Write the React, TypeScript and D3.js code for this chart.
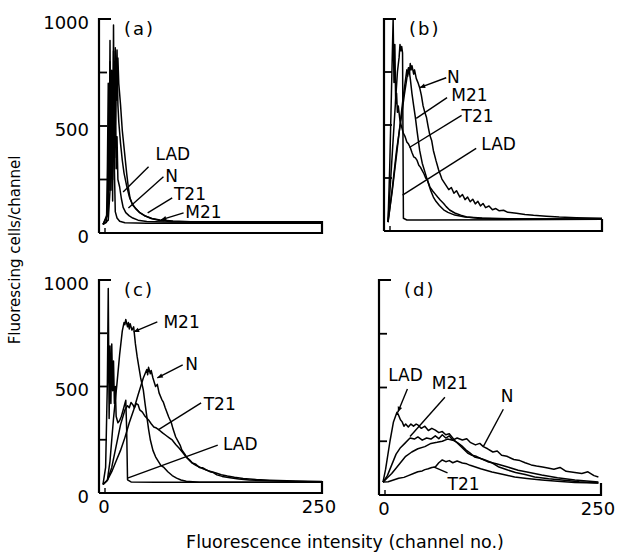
import * as d3 from "d3";

type Pt = [number, number];
type Note = { text: string; at: Pt; from: Pt; to: Pt; arrow: boolean };

// axis values
const Y_TICKS = [0, 250, 500, 750, 1000];
const Y_LABELED = [0, 500, 1000];
const X_LABELED = [0, 250];

// panel (a): [channel, cells]
const A_LAD: Pt[] = [[0, 40], [4, 50], [5, 300], [6, 700], [7, 250], [8, 900], [9, 200], [10, 760], [11, 150], [12, 972], [13, 300], [14, 100], [16, 70], [19, 55], [25, 48], [50, 46], [250, 46]];
const A_N: Pt[] = [[0, 40], [5, 80], [6, 450], [7, 200], [8, 800], [9, 300], [10, 700], [11, 250], [12, 850], [13, 350], [14, 866], [15, 300], [16, 450], [17, 250], [19, 215], [21, 160], [23, 120], [26, 95], [30, 80], [34, 70], [40, 60], [50, 54], [70, 51], [250, 50]];
const A_T21: Pt[] = [[0, 40], [6, 100], [7, 500], [8, 250], [9, 650], [10, 350], [11, 750], [12, 420], [13, 800], [14, 500], [15, 720], [16, 855], [17, 600], [18, 520], [20, 420], [22, 340], [24, 280], [27, 220], [30, 170], [33, 140], [37, 115], [42, 95], [47, 82], [55, 68], [65, 58], [80, 53], [250, 51]];
const A_M21: Pt[] = [[0, 40], [6, 60], [8, 200], [9, 450], [10, 300], [11, 600], [12, 380], [13, 700], [14, 500], [15, 760], [16, 620], [17, 818], [18, 700], [20, 600], [22, 480], [24, 400], [27, 280], [29, 210], [31, 160], [34, 130], [38, 112], [42, 95], [48, 80], [56, 68], [65, 61], [80, 56], [100, 53], [250, 52]];
const A_NOTES: Note[] = [
  { text: "LAD", at: [60, 343], from: [52, 310], to: [23, 192], arrow: false },
  { text: "N", at: [71, 239], from: [69, 263], to: [29, 117], arrow: false },
  { text: "T21", at: [81, 155], from: [79, 164], to: [51, 94], arrow: false },
  { text: "M21", at: [94, 70], from: [92, 94], to: [66, 61], arrow: true },
];

// panel (b)
const B_LAD: Pt[] = [[0, 42], [4, 300], [8, 560], [11, 750], [13, 820], [14, 880], [15, 850], [16, 870], [17, 840], [18, 60], [22, 52], [40, 52], [250, 55]];
const B_N: Pt[] = [[0, 42], [5, 200], [10, 380], [15, 520], [19, 640], [22, 720], [24, 770], [25, 740], [26, 790], [27, 760], [28, 780], [30, 740], [31, 760], [33, 720], [35, 700], [37, 676], [39, 640], [41, 590], [43, 560], [45, 535], [47, 490], [49, 450], [51, 427], [53, 380], [56, 333], [59, 290], [63, 245], [67, 220], [71, 195], [74, 205], [77, 178], [80, 190], [84, 160], [87, 172], [90, 148], [93, 160], [96, 138], [99, 150], [102, 128], [105, 140], [108, 118], [111, 130], [114, 110], [118, 118], [122, 100], [126, 106], [130, 95], [135, 98], [140, 88], [150, 84], [160, 78], [170, 74], [185, 70], [200, 66], [220, 63], [250, 60]];
const B_M21: Pt[] = [[0, 42], [5, 190], [10, 360], [14, 500], [18, 640], [20, 700], [22, 760], [23, 730], [24, 770], [25, 750], [26, 720], [28, 648], [30, 590], [32, 535], [34, 470], [37, 380], [40, 320], [43, 280], [45, 253], [48, 215], [50, 190], [53, 160], [56, 140], [60, 120], [65, 100], [70, 88], [78, 75], [90, 66], [110, 61], [140, 58], [250, 57]];
const B_T21: Pt[] = [[0, 42], [2, 300], [4, 650], [6, 1000], [7, 700], [8, 880], [9, 600], [10, 650], [11, 560], [12, 590], [14, 520], [16, 490], [18, 460], [20, 445], [22, 420], [24, 410], [26, 394], [28, 370], [30, 350], [32, 345], [34, 333], [36, 310], [38, 300], [40, 285], [42, 270], [44, 250], [46, 240], [49, 207], [52, 190], [55, 175], [58, 160], [61, 146], [65, 130], [68, 115], [72, 99], [78, 85], [85, 75], [92, 66], [105, 60], [130, 57], [250, 56]];
const B_NOTES: Note[] = [
  { text: "N", at: [69, 700], from: [68, 723], to: [37, 676], arrow: true },
  { text: "M21", at: [74, 615], from: [69, 629], to: [33, 531], arrow: false },
  { text: "T21", at: [86, 512], from: [86, 545], to: [25, 394], arrow: false },
  { text: "LAD", at: [109, 380], from: [103, 390], to: [17, 169], arrow: false },
];

// panel (c)
const C_LAD: Pt[] = [[0, 40], [3, 120], [5, 520], [6, 960], [7, 350], [8, 690], [9, 420], [10, 700], [11, 480], [12, 620], [13, 420], [14, 500], [15, 360], [17, 330], [19, 340], [21, 360], [23, 390], [25, 420], [26, 435], [27, 300], [28, 62], [32, 52], [60, 50], [250, 50]];
const C_M21: Pt[] = [[0, 40], [5, 60], [8, 150], [12, 350], [16, 516], [19, 650], [22, 760], [24, 800], [25, 790], [26, 815], [28, 780], [29, 800], [30, 770], [31, 795], [33, 765], [35, 780], [37, 700], [39, 640], [41, 590], [43, 540], [46, 484], [48, 420], [50, 360], [52, 300], [54, 250], [57, 200], [60, 170], [63, 150], [66, 130], [69, 122], [74, 100], [79, 82], [84, 70], [89, 61], [95, 55], [110, 51], [250, 50]];
const C_N: Pt[] = [[0, 40], [5, 60], [10, 100], [15, 150], [20, 200], [25, 260], [30, 330], [35, 390], [40, 460], [43, 500], [46, 540], [48, 560], [50, 580], [51, 555], [52, 590], [54, 560], [55, 575], [57, 540], [60, 500], [62, 510], [64, 470], [67, 440], [69, 425], [71, 400], [75, 357], [78, 330], [80, 300], [83, 263], [86, 240], [88, 225], [90, 202], [93, 185], [96, 165], [99, 155], [102, 141], [106, 135], [110, 120], [114, 118], [118, 108], [122, 100], [126, 96], [130, 85], [136, 78], [145, 72], [155, 66], [167, 61], [190, 57], [220, 54], [250, 52]];
const C_T21: Pt[] = [[0, 40], [5, 60], [10, 120], [15, 220], [20, 320], [25, 390], [28, 410], [30, 400], [32, 425], [34, 415], [36, 400], [38, 420], [40, 415], [42, 390], [45, 380], [48, 360], [52, 343], [55, 325], [58, 310], [61, 305], [64, 296], [68, 282], [72, 270], [76, 258], [79, 249], [83, 228], [87, 210], [91, 190], [95, 169], [99, 152], [102, 140], [106, 130], [110, 122], [115, 112], [120, 105], [125, 99], [129, 94], [135, 86], [142, 80], [150, 74], [160, 68], [175, 63], [190, 60], [220, 56], [250, 54]];
const C_NOTES: Note[] = [
  { text: "M21", at: [69, 775], from: [62, 803], to: [35, 756], arrow: true },
  { text: "N", at: [94, 577], from: [91, 601], to: [62, 540], arrow: true },
  { text: "T21", at: [115, 390], from: [112, 423], to: [63, 296], arrow: false },
  { text: "LAD", at: [137, 202], from: [131, 225], to: [28, 70], arrow: false },
];

// panel (d)
const D_LAD: Pt[] = [[0, 60], [3, 120], [8, 250], [12, 340], [16, 385], [18, 370], [20, 350], [22, 340], [24, 320], [26, 330], [29, 316], [32, 330], [35, 320], [38, 330], [40, 326], [44, 310], [48, 320], [52, 300], [56, 310], [60, 302], [64, 290], [68, 295], [72, 280], [76, 285], [79, 270], [83, 250], [87, 235], [92, 215], [97, 195], [102, 185], [107, 180], [112, 170], [117, 163], [125, 150], [133, 130], [143, 116], [152, 105], [163, 95], [174, 84], [190, 76], [205, 70], [225, 62], [247, 56]];
const D_M21: Pt[] = [[0, 60], [5, 90], [10, 140], [15, 190], [20, 220], [25, 240], [31, 265], [36, 260], [40, 270], [45, 255], [50, 265], [55, 260], [60, 275], [64, 262], [68, 280], [72, 265], [76, 275], [80, 255], [85, 245], [90, 230], [95, 210], [100, 195], [105, 177], [112, 170], [120, 155], [130, 145], [143, 130], [155, 115], [168, 105], [182, 93], [200, 80], [220, 70], [247, 60]];
const D_N: Pt[] = [[0, 60], [5, 80], [10, 100], [14, 120], [20, 150], [26, 180], [33, 200], [40, 215], [48, 225], [55, 240], [62, 245], [68, 250], [74, 260], [80, 255], [85, 265], [91, 256], [96, 262], [100, 245], [106, 233], [111, 240], [115, 225], [120, 215], [126, 200], [131, 205], [136, 185], [142, 180], [150, 165], [157, 160], [163, 150], [170, 140], [176, 135], [183, 130], [189, 126], [196, 120], [203, 128], [210, 110], [220, 105], [228, 100], [235, 108], [242, 90], [247, 84]];
const D_T21: Pt[] = [[0, 60], [6, 62], [12, 70], [18, 78], [24, 82], [29, 90], [35, 100], [40, 108], [45, 112], [48, 118], [52, 122], [56, 128], [60, 130], [64, 150], [68, 163], [72, 155], [76, 160], [80, 150], [85, 158], [91, 149], [96, 145], [100, 138], [106, 130], [112, 122], [118, 115], [125, 107], [133, 100], [142, 92], [151, 84], [165, 77], [182, 70], [200, 64], [220, 58], [247, 56]];
const D_NOTES: Note[] = [
  { text: "LAD", at: [6, 530], from: [28, 493], to: [17, 385], arrow: true },
  { text: "M21", at: [56, 493], from: [71, 455], to: [31, 272], arrow: false },
  { text: "N", at: [135, 432], from: [138, 399], to: [115, 225], arrow: false },
  { text: "T21", at: [74, 23], from: [74, 103], to: [58, 131], arrow: false },
];

const PANELS = [
  { key: "a", title: "(a)", series: [A_LAD, A_N, A_T21, A_M21], notes: A_NOTES, yLabels: true, xLabels: false },
  { key: "b", title: "(b)", series: [B_LAD, B_N, B_M21, B_T21], notes: B_NOTES, yLabels: false, xLabels: false },
  { key: "c", title: "(c)", series: [C_LAD, C_M21, C_N, C_T21], notes: C_NOTES, yLabels: true, xLabels: true },
  { key: "d", title: "(d)", series: [D_LAD, D_M21, D_N, D_T21], notes: D_NOTES, yLabels: false, xLabels: true },
];

// pixel placement of each panel: channel 0 / value 0 origin, width, top
const LAYOUT: Record<string, { x0: number; y0: number; w: number; top: number }> = {
  a: { x0: 103, y0: 233, w: 219, top: 19 },
  b: { x0: 388, y0: 231, w: 214, top: 19 },
  c: { x0: 103, y0: 493, w: 219, top: 280 },
  d: { x0: 383, y0: 495, w: 218, top: 280 },
};

const FONT = "'DejaVu Sans', sans-serif";

function Panel({ p }: { p: (typeof PANELS)[number] }) {
  const L = LAYOUT[p.key];
  const x = d3.scaleLinear().domain([0, 250]).range([0, L.w]);
  const y = d3.scaleLinear().domain([0, 1000]).range([L.y0 - L.top, 0]);
  const line = d3.line<Pt>().x(d => x(d[0])).y(d => y(d[1]));
  const ax = -4;
  const h = L.y0 - L.top;

  return (
    <g transform={`translate(${L.x0},${L.top})`}>
      {/* y axis with bracket top and inner ticks */}
      <path d={`M${ax + 12},0H${ax}V${h}`} fill="none" stroke="#000" strokeWidth={2.2} />
      {Y_TICKS.slice(1, -1).map(t => (
        <line key={t} x1={ax} x2={ax + 8} y1={y(t)} y2={y(t)} stroke="#000" strokeWidth={1.8} />
      ))}
      {/* x axis */}
      <path d={`M${ax},${h}H${x(250)}V${h - 12}`} fill="none" stroke="#000" strokeWidth={2.2} />
      <line x1={x(0) + 2} x2={x(0) + 2} y1={h} y2={h - 5} stroke="#000" strokeWidth={1.4} />

      {p.yLabels && Y_LABELED.map(t => (
        <text key={t} x={ax - 10} y={y(t) + 3} textAnchor="end" dominantBaseline="central"
          fontFamily={FONT} fontSize={18}>{t}</text>
      ))}
      {p.xLabels && X_LABELED.map(t => (
        <text key={t} x={x(t) + (t === 0 ? 1 : -3)} y={h + 20} textAnchor="middle"
          fontFamily={FONT} fontSize={18}>{t}</text>
      ))}

      <text x={x(0) + 21} y={16} fontFamily={FONT} fontSize={18} letterSpacing={2}>{p.title}</text>

      {p.series.map((s, i) => (
        <path key={i} d={line(s) || ""} fill="none" stroke="#000" strokeWidth={1.5} strokeLinejoin="round" />
      ))}

      {p.notes.map(n => {
        const [fx, fy] = [x(n.from[0]), y(n.from[1])];
        const [tx, ty] = [x(n.to[0]), y(n.to[1])];
        const ang = Math.atan2(ty - fy, tx - fx);
        const a1 = ang + Math.PI - 0.4;
        const a2 = ang + Math.PI + 0.4;
        return (
          <g key={n.text}>
            <line x1={fx} y1={fy} x2={tx} y2={ty} stroke="#000" strokeWidth={1.4} />
            {n.arrow && (
              <path d={`M${tx},${ty}L${tx + 6 * Math.cos(a1)},${ty + 6 * Math.sin(a1)}L${tx + 6 * Math.cos(a2)},${ty + 6 * Math.sin(a2)}Z`} fill="#000" />
            )}
            <text x={x(n.at[0])} y={y(n.at[1])} fontFamily={FONT} fontSize={17}>{n.text}</text>
          </g>
        );
      })}
    </g>
  );
}

export default function App() {
  return (
    <svg width={619} height={556} style={{ position: "absolute", left: 0, top: 0, background: "#fff" }}>
      <rect width={619} height={556} fill="#fff" />
      {PANELS.map(p => <Panel key={p.key} p={p} />)}
      <text transform="translate(20,250) rotate(-90)" textAnchor="middle" fontFamily={FONT} fontSize={15}>
        Fluorescing cells/channel
      </text>
      <text x={345} y={548} textAnchor="middle" fontFamily={FONT} fontSize={17.5}>
        Fluorescence intensity (channel no.)
      </text>
    </svg>
  );
}
